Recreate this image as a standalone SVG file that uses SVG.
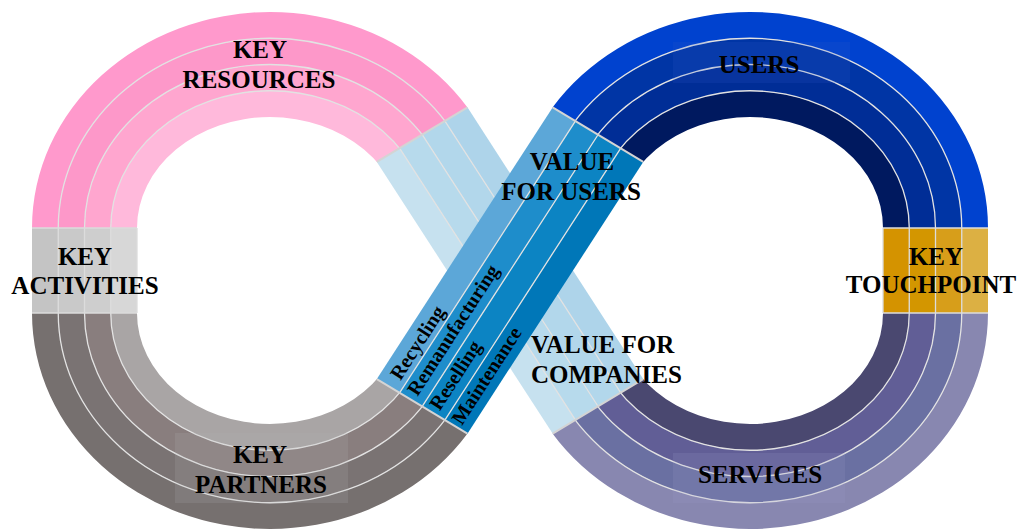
<svg xmlns="http://www.w3.org/2000/svg" xmlns:xlink="http://www.w3.org/1999/xlink" width="1023" height="529" viewBox="0 0 1023 529">
<style>
.lbl{font-family:"Liberation Serif","Times New Roman",serif;font-weight:bold;font-size:25px;fill:#000;text-anchor:middle}
.rt{font-family:"Liberation Serif","Times New Roman",serif;font-weight:bold;font-size:20px;fill:#000}
.sep{fill:none;stroke:#e2e2e2;stroke-width:1.3}
.end{fill:none;stroke:#d4d4d4;stroke-width:2}
.box{stroke:#dcdcdc;stroke-width:1.3}
.ring{fill-rule:evenodd}
.tb{fill-opacity:0.18}
</style>
<defs>
<clipPath id="cTL"><polygon points="-10,-60 745.3,-60 267.1,228 -10,228"/></clipPath>
<clipPath id="cBL"><polygon points="-10,601 745.3,601 267.1,313 -10,313"/></clipPath>
<clipPath id="cTR"><polygon points="1033,-60 274.7,-60 752.9,228 1033,228"/></clipPath>
<clipPath id="cBR"><polygon points="1033,601 274.7,601 752.9,313 1033,313"/></clipPath>
<path id="r0" class="ring" d="M-238,0A238,216 0 1 0 238,0A238,216 0 1 0 -238,0ZM-211.75,0A211.75,189.75 0 1 0 211.75,0A211.75,189.75 0 1 0 -211.75,0Z"/>
<path id="r1" class="ring" d="M-211.75,0A211.75,189.75 0 1 0 211.75,0A211.75,189.75 0 1 0 -211.75,0ZM-185.5,0A185.5,163.5 0 1 0 185.5,0A185.5,163.5 0 1 0 -185.5,0Z"/>
<path id="r2" class="ring" d="M-185.5,0A185.5,163.5 0 1 0 185.5,0A185.5,163.5 0 1 0 -185.5,0ZM-159.25,0A159.25,137.25 0 1 0 159.25,0A159.25,137.25 0 1 0 -159.25,0Z"/>
<path id="r3" class="ring" d="M-159.25,0A159.25,137.25 0 1 0 159.25,0A159.25,137.25 0 1 0 -159.25,0ZM-133,0A133,111 0 1 0 133,0A133,111 0 1 0 -133,0Z"/>
<g id="sp">
<ellipse class="sep" rx="211.75" ry="189.75"/>
<ellipse class="sep" rx="185.5" ry="163.5"/>
<ellipse class="sep" rx="159.25" ry="137.25"/>
</g>
</defs>
<rect width="1023" height="529" fill="#fff"/>

<g id="key-resources" clip-path="url(#cTL)">
<use xlink:href="#r0" x="270" y="228" fill="#FF99CC"/>
<use xlink:href="#r1" x="270" y="228" fill="#FD98C9"/>
<use xlink:href="#r2" x="270" y="228" fill="#FFA6CF"/>
<use xlink:href="#r3" x="270" y="228" fill="#FFB9DB"/>
<use xlink:href="#sp" x="270" y="228"/>
</g>

<g id="key-partners" clip-path="url(#cBL)">
<use xlink:href="#r0" x="270" y="313" fill="#76706F"/>
<use xlink:href="#r1" x="270" y="313" fill="#7A7373"/>
<use xlink:href="#r2" x="270" y="313" fill="#897E7E"/>
<use xlink:href="#r3" x="270" y="313" fill="#A9A5A5"/>
<use xlink:href="#sp" x="270" y="313"/>
<rect class="tb" x="175" y="433" width="173" height="70" fill="#b0b0b0"/>
</g>

<g id="users" clip-path="url(#cTR)">
<use xlink:href="#r0" x="750" y="228" fill="#0042CF"/>
<use xlink:href="#r1" x="750" y="228" fill="#0035A5"/>
<use xlink:href="#r2" x="750" y="228" fill="#002D96"/>
<use xlink:href="#r3" x="750" y="228" fill="#00195F"/>
<use xlink:href="#sp" x="750" y="228"/>
<rect class="tb" x="673" y="42" width="177" height="41" fill="#2a5ac8"/>
</g>

<g id="services" clip-path="url(#cBR)">
<use xlink:href="#r0" x="750" y="313" fill="#8887B0"/>
<use xlink:href="#r1" x="750" y="313" fill="#6A70A2"/>
<use xlink:href="#r2" x="750" y="313" fill="#615E96"/>
<use xlink:href="#r3" x="750" y="313" fill="#4A4870"/>
<use xlink:href="#sp" x="750" y="313"/>
<rect class="tb" x="673" y="453" width="172" height="50" fill="#9a9ac8"/>
</g>

<g id="key-activities">
<rect x="32" y="228" width="26.25" height="85" fill="#C4C4C4"/>
<rect x="58.25" y="228" width="26.25" height="85" fill="#C9C9C9"/>
<rect x="84.5" y="228" width="26.25" height="85" fill="#CECECE"/>
<rect x="110.75" y="228" width="26.25" height="85" fill="#D7D7D7"/>
<path class="box" fill="none" d="M32,228H137M32,313H137M58.25,228V313M84.5,228V313M110.75,228V313M137,228V313"/>
</g>

<g id="key-touchpoint">
<rect x="883" y="228" width="26.25" height="85" fill="#D49300"/>
<rect x="909.25" y="228" width="26.25" height="85" fill="#D39600"/>
<rect x="935.5" y="228" width="26.25" height="85" fill="#D79E1A"/>
<rect x="961.75" y="228" width="26.25" height="85" fill="#DCB043"/>
<path class="box" fill="none" d="M883,228H988M883,313H988M909.25,228V313M935.5,228V313M961.75,228V313M883,228V313"/>
</g>

<g id="value-for-companies-band">
<polygon points="376.83,161.91 399.57,148.21 575.37,419.91 552.63,433.61" fill="#C6E1EF"/>
<polygon points="399.57,148.21 422.23,134.57 598.03,406.27 575.37,419.91" fill="#B7DAEC"/>
<polygon points="422.23,134.57 444.84,120.95 620.64,392.65 598.03,406.27" fill="#B2D7EB"/>
<polygon points="444.84,120.95 467.42,107.35 643.22,379.05 620.64,392.65" fill="#AED4EA"/>
<path class="sep" d="M399.57,148.21L575.37,419.91M422.23,134.57L598.03,406.27M444.84,120.95L620.64,392.65"/>
<path class="end" d="M376.83,161.91L467.42,107.35M552.63,433.61L643.22,379.05"/>
</g>

<g id="value-for-users-band">
<polygon points="376.83,379.09 399.57,392.79 575.37,121.09 552.63,107.39" fill="#5CA7D8"/>
<polygon points="399.57,392.79 422.23,406.43 598.03,134.73 575.37,121.09" fill="#1E8DCB"/>
<polygon points="422.23,406.43 444.84,420.05 620.64,148.35 598.03,134.73" fill="#0C84C3"/>
<polygon points="444.84,420.05 467.42,433.65 643.22,161.95 620.64,148.35" fill="#0077B8"/>
<path class="sep" d="M399.57,392.79L575.37,121.09M422.23,406.43L598.03,134.73M444.84,420.05L620.64,148.35"/>
<path class="end" d="M376.83,379.09L467.42,433.65M552.63,107.39L643.22,161.95"/>
<text class="rt" transform="translate(400.44,381.26) rotate(-57.09)">Recycling</text>
<text class="rt" transform="translate(417.57,397.12) rotate(-57.09)">Remanufacturing</text>
<text class="rt" transform="translate(439.82,411.51) rotate(-57.09)">Reselling</text>
<text class="rt" transform="translate(462.07,425.91) rotate(-57.09)">Maintenance</text>
</g>

<g id="labels">
<text class="lbl" x="260" y="58">KEY</text>
<text class="lbl" x="259" y="88">RESOURCES</text>
<text class="lbl" x="759" y="73">USERS</text>
<text class="lbl" x="572" y="170">VALUE</text>
<text class="lbl" x="571" y="200">FOR USERS</text>
<text class="lbl" x="85" y="265">KEY</text>
<text class="lbl" x="85" y="294">ACTIVITIES</text>
<text class="lbl" x="936" y="265">KEY</text>
<text class="lbl" x="931" y="293">TOUCHPOINT</text>
<text class="lbl" x="531" y="353" style="text-anchor:start">VALUE FOR</text>
<text class="lbl" x="531" y="383" style="text-anchor:start">COMPANIES</text>
<text class="lbl" x="260" y="463">KEY</text>
<text class="lbl" x="261" y="493">PARTNERS</text>
<text class="lbl" x="760" y="483">SERVICES</text>
</g>
</svg>
